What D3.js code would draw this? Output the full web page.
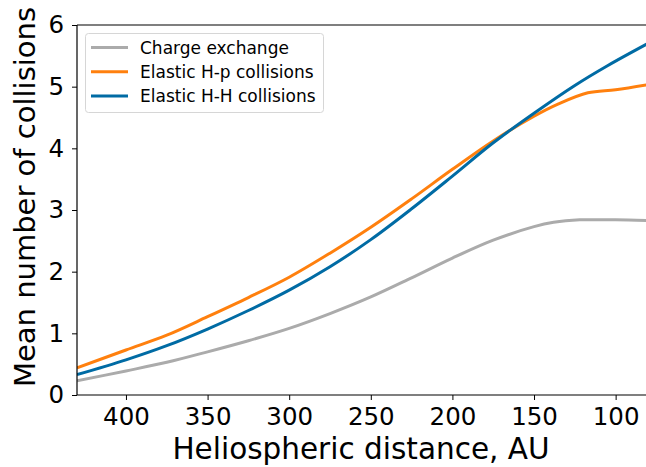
<!DOCTYPE html>
<html><head><meta charset="utf-8">
<script src="https://cdn.jsdelivr.net/npm/d3@7"></script>
<style>body{margin:0;background:#fff}svg{display:block}text{font-family:"DejaVu Sans",sans-serif}</style>
</head><body><svg id="c" width="646" height="467"></svg>
<script>
const seriesNames = ["Charge exchange", "Elastic H-p collisions", "Elastic H-H collisions"];
const seriesColors = ["#ababab", "#ff800e", "#006ba4"];
const chargeX = [430,400,375,350,325,300,275,250,225,200,175,150,138,122,100,81];
const chargeY = [0.23,0.39,0.53,0.70,0.88,1.08,1.32,1.59,1.90,2.22,2.51,2.73,2.80,2.84,2.84,2.83];
const hpX = [430,400,375,350,325,300,275,250,225,200,175,150,135,117,100,81];
const hpY = [0.44,0.73,0.97,1.27,1.58,1.91,2.30,2.72,3.18,3.66,4.12,4.52,4.72,4.90,4.95,5.03];
const hhX = [430,400,375,350,325,300,275,250,225,200,175,150,125,105,81];
const hhY = [0.33,0.57,0.80,1.07,1.37,1.70,2.08,2.52,3.02,3.55,4.09,4.57,5.02,5.34,5.69];
const xTicks = [400,350,300,250,200,150,100];
const yTicks = [0,1,2,3,4,5,6];

const svg = d3.select("#c");
const L=77, R=646, T=25, B=395;
const x = d3.scaleLinear().domain([430,81.4]).range([L,R]);
const y = d3.scaleLinear().domain([0,6]).range([B,T]);

const series = [
  {name:seriesNames[0], color:seriesColors[0], xs:chargeX, ys:chargeY},
  {name:seriesNames[1], color:seriesColors[1], xs:hpX, ys:hpY},
  {name:seriesNames[2], color:seriesColors[2], xs:hhX, ys:hhY}
];
const line = d3.line().x(d=>x(d[0])).y(d=>y(d[1])).curve(d3.curveCatmullRom.alpha(0.5));
svg.append("defs").append("clipPath").attr("id","clip").append("rect")
  .attr("x",L).attr("y",T).attr("width",R-L).attr("height",B-T);
const g = svg.append("g").attr("clip-path","url(#clip)");
series.forEach(s=>{
  const pts = s.xs.map((v,i)=>[v,s.ys[i]]);
  g.append("path").attr("d",line(pts)).attr("fill","none")
   .attr("stroke",s.color).attr("stroke-width",3).attr("stroke-linejoin","round");
});

const xa = svg.append("g").attr("transform",`translate(0,${B})`)
  .call(d3.axisBottom(x).tickValues(xTicks).tickSize(5).tickPadding(8).tickFormat(d3.format("d")));
const ya = svg.append("g").attr("transform",`translate(${L},0)`)
  .call(d3.axisLeft(y).tickValues(yTicks).tickSize(5).tickPadding(8).tickFormat(d3.format("d")));
[xa,ya].forEach(a=>{
  a.select(".domain").remove();
  a.selectAll("line").attr("stroke","#000").attr("stroke-width",1);
  a.selectAll("text").attr("font-size",24.5).attr("fill","#000");
});
// spines
svg.append("line").attr("x1",L).attr("x2",L).attr("y1",T).attr("y2",B).attr("stroke","#000").attr("stroke-width",1.2);
svg.append("line").attr("x1",L).attr("x2",R).attr("y1",B).attr("y2",B).attr("stroke","#000").attr("stroke-width",1.2);
svg.append("line").attr("x1",L).attr("x2",R).attr("y1",T).attr("y2",T).attr("stroke","#000").attr("stroke-width",1.2);

svg.append("text").attr("x",361).attr("y",459).attr("text-anchor","middle")
  .attr("font-size",29.5).text("Heliospheric distance, AU");
svg.append("text").attr("transform",`translate(35,197) rotate(-90)`)
  .attr("text-anchor","middle").attr("font-size",29).text("Mean number of collisions");

// legend
const lg = svg.append("g");
lg.append("rect").attr("x",85.5).attr("y",33.5).attr("width",238).attr("height",79).attr("rx",3)
  .attr("fill","#fff").attr("fill-opacity",0.8).attr("stroke","#d6d6d6").attr("stroke-width",1);
series.forEach((s,i)=>{
  const yy = 47.5 + i*24.3;
  lg.append("line").attr("x1",91).attr("x2",128).attr("y1",yy).attr("y2",yy)
    .attr("stroke",s.color).attr("stroke-width",3);
  lg.append("text").attr("x",140).attr("y",yy+6).attr("font-size",17).text(s.name);
});
</script></body></html>
